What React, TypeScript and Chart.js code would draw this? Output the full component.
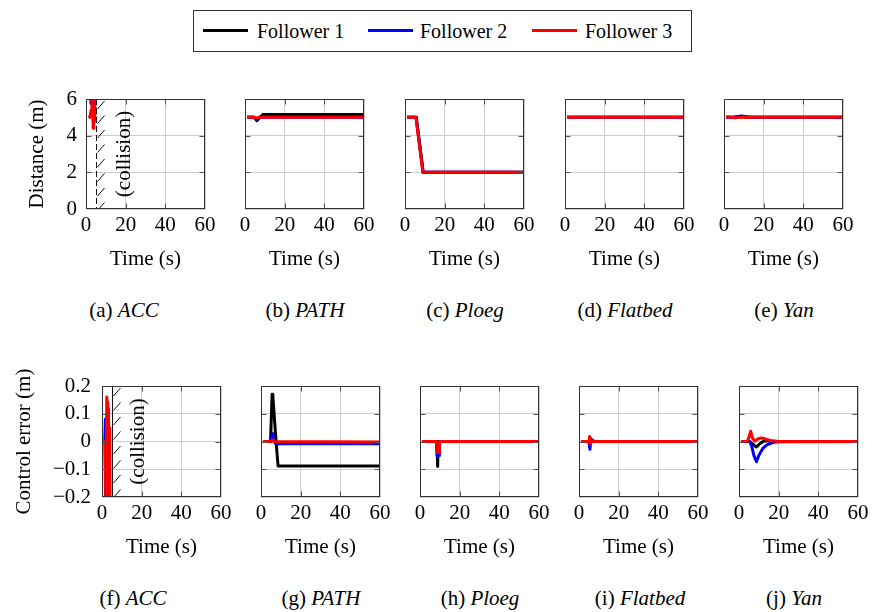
import React, { useEffect, useRef } from "react";
import { Chart, registerables } from "chart.js";

Chart.register(...registerables);

type Pt = [number, number];

// ---------- labels ----------
const followerNames = ["Follower 1", "Follower 2", "Follower 3"];
const followerColors = ["#000000", "#0000ff", "#ff0000"];
const controllerNames = ["ACC", "PATH", "Ploeg", "Flatbed", "Yan"];
const topLetters = ["a", "b", "c", "d", "e"];
const bottomLetters = ["f", "g", "h", "i", "j"];

const timeTicks = [0, 20, 40, 60];
const distTicks = [0, 2, 4, 6];
const distTickLabels = ["0", "2", "4", "6"];
const errTicks = [-0.2, -0.1, 0, 0.1, 0.2];
const errTickLabels = ["\u22120.2", "\u22120.1", "0", "0.1", "0.2"];

// ---------- distance (m) vs time (s) ----------
const accDist1: Pt[] = [[2.9, 6.6], [3.1, 5.95], [3.3, 6.6]];
const accDist2: Pt[] = [[2.2, 6.6], [2.5, 5.75], [2.8, 6.6]];
const accDist3: Pt[] = [[1.5, 5.1], [2.0, 5.0], [2.6, 5.4], [3.0, 6.6], [3.3, 6.0], [3.6, 4.4], [3.9, 6.0], [4.2, 4.8], [4.5, 6.6]];

const pathDist1: Pt[] = [[1, 5], [4.5, 5], [6, 4.82], [7.5, 5.0], [9, 5.15], [60, 5.15]];
const pathDist2: Pt[] = [[1, 5], [4.5, 5], [6, 4.9], [7.5, 5.0], [60, 5.0]];
const pathDist3: Pt[] = [[1, 5], [5, 5], [6, 4.96], [7, 5.0], [60, 5.0]];

const ploegDist1: Pt[] = [[1, 5], [5.7, 5], [9.2, 2], [60, 2]];
const ploegDist2: Pt[] = [[1, 5], [5.6, 5], [9.1, 2], [60, 2]];
const ploegDist3: Pt[] = [[1, 5], [5.5, 5], [9.0, 2], [60, 2]];

const flatbedDist1: Pt[] = [[1, 5], [60, 5]];
const flatbedDist2: Pt[] = [[1, 5], [60, 5]];
const flatbedDist3: Pt[] = [[1, 5], [60, 5]];

const yanDist1: Pt[] = [[1, 5], [5, 5], [8, 5.04], [12, 5.0], [60, 5]];
const yanDist2: Pt[] = [[1, 5], [5, 5], [8.8, 5.08], [14, 5.0], [60, 5]];
const yanDist3: Pt[] = [[1, 5], [4, 5], [5.5, 4.97], [8, 5.0], [60, 5]];

// ---------- control error (m) vs time (s) ----------
const accErr1: Pt[] = [[1, 0], [1.5, 0.0], [1.8, -0.25]];
const accErr2: Pt[] = [[1, 0], [1.4, 0.0], [1.7, 0.08], [2.1, -0.25]];
const accErr3: Pt[] = [[1, 0.0], [1.6, 0.0], [2.0, -0.25], [2.4, 0.16], [2.7, 0.14], [3.0, -0.25], [3.3, 0.12], [3.6, -0.25], [3.9, 0.05], [4.1, -0.25]];

const pathErr1: Pt[] = [[1, 0], [4.8, 0], [5.6, 0.17], [6.0, 0.16], [7.6, 0.0], [8.6, -0.088], [60, -0.088]];
const pathErr2: Pt[] = [[1, 0], [5, 0], [5.8, 0.03], [6.6, 0.0], [7.5, -0.008], [60, -0.008]];
const pathErr3: Pt[] = [[1, 0], [5, 0], [5.8, 0.006], [6.5, 0], [60, -0.002]];

const ploegErr1: Pt[] = [[1, 0], [8.5, 0], [8.9, -0.09], [9.2, 0], [60, 0]];
const ploegErr2: Pt[] = [[1, 0], [8.4, 0], [8.6, -0.05], [9.6, -0.05], [9.8, 0], [60, 0]];
const ploegErr3: Pt[] = [[1, 0], [8.4, 0], [8.6, -0.04], [9.6, -0.04], [9.8, 0], [60, 0]];

const flatbedErr1: Pt[] = [[1, 0], [5, 0], [5.5, -0.012], [6.5, 0.004], [8, 0], [60, 0]];
const flatbedErr2: Pt[] = [[1, 0], [5, 0], [5.5, -0.028], [6, 0.01], [7, 0], [60, 0]];
const flatbedErr3: Pt[] = [[1, 0], [5, 0], [5.4, 0.018], [5.7, -0.01], [6.2, 0.004], [7, 0], [60, 0]];

const yanErr1: Pt[] = [[1, 0], [5.5, 0.0], [7, -0.01], [8.8, -0.02], [10.5, -0.008], [12.5, 0.002], [15, 0.002], [20, 0], [60, 0]];
const yanErr2: Pt[] = [[1, 0], [5.5, 0.0], [6.5, -0.02], [7.5, -0.05], [8.8, -0.073], [10, -0.05], [12, -0.025], [14, -0.012], [17, -0.004], [20, -0.001], [60, 0]];
const yanErr3: Pt[] = [[1, 0], [4.2, 0], [5.2, 0.02], [5.9, 0.037], [6.8, 0.012], [8, 0.002], [9.5, 0.009], [11, 0.013], [13, 0.01], [16, 0.003], [20, 0.0], [60, 0]];

const distSeries: Pt[][][] = [
  [accDist1, accDist2, accDist3],
  [pathDist1, pathDist2, pathDist3],
  [ploegDist1, ploegDist2, ploegDist3],
  [flatbedDist1, flatbedDist2, flatbedDist3],
  [yanDist1, yanDist2, yanDist3],
];
const errSeries: Pt[][][] = [
  [accErr1, accErr2, accErr3],
  [pathErr1, pathErr2, pathErr3],
  [ploegErr1, ploegErr2, ploegErr3],
  [flatbedErr1, flatbedErr2, flatbedErr3],
  [yanErr1, yanErr2, yanErr3],
];

const collisionTime = 5;

// ---------- layout ----------
const FONT_FAMILY = "'Liberation Serif', 'Times New Roman', serif";
const FS = 21;
const LEGEND_FS = 20;
const LH = FS * 1.2;
const PAD_RIGHT = 16;
const X_AXIS_H = 63;
const PLOT_W = 119;

const topRow = { top: 99, h: 110, lefts: [86, 245, 405, 565, 724], captionY: 310 };
const bottomRow = { top: 386, h: 111, lefts: [102, 261, 420, 579, 739], captionY: 598 };

interface PanelCfg {
  left: number;
  top: number;
  h: number;
  yAxisW: number;
  labelled: boolean;
  yTitle: string;
  yTitlePad: number;
  yTickPad: number;
  yMin: number;
  yMax: number;
  yTicks: number[];
  yLabels: string[];
  series: Pt[][];
  collision?: { dashed: boolean; textT: number };
}

function padTopOf(cfg: PanelCfg) {
  return cfg.labelled ? Math.ceil(LH / 2 + cfg.yTickPad) + 2 : 16;
}

function makeFramePlugin(cfg: PanelCfg) {
  return {
    id: "frame",
    afterDatasetsDraw(chart: any) {
      const { ctx, chartArea: a, scales } = chart;
      const L = Math.round(a.left) + 0.5;
      const T = Math.round(a.top) + 0.5;
      const R = Math.round(a.right) - 0.5;
      const B = Math.round(a.bottom) - 0.5;
      ctx.save();
      if (cfg.collision) {
        ctx.save();
        ctx.beginPath();
        ctx.rect(a.left, a.top, a.right - a.left, a.bottom - a.top);
        ctx.clip();
        const cx = Math.round(scales.x.getPixelForValue(collisionTime)) + 0.5;
        ctx.strokeStyle = "#111";
        ctx.lineWidth = 1;
        if (cfg.collision.dashed) ctx.setLineDash([6, 3]);
        ctx.beginPath();
        ctx.moveTo(cx, a.top);
        ctx.lineTo(cx, a.bottom);
        ctx.stroke();
        ctx.setLineDash([]);
        for (let y = a.top + 6; y < a.bottom + 8; y += 14.5) {
          ctx.beginPath();
          ctx.moveTo(cx + 1, y + 4);
          ctx.lineTo(cx + 8, y - 4);
          ctx.stroke();
        }
        ctx.restore();
        const tx = scales.x.getPixelForValue(cfg.collision.textT);
        ctx.save();
        ctx.translate(tx, (a.top + a.bottom) / 2);
        ctx.rotate(-Math.PI / 2);
        ctx.font = `${FS}px ${FONT_FAMILY}`;
        ctx.fillStyle = "#000";
        ctx.textAlign = "center";
        ctx.textBaseline = "middle";
        ctx.fillText("(collision)", 0, 0);
        ctx.restore();
      }
      ctx.strokeStyle = "#555";
      ctx.lineWidth = 1;
      const tl = 5;
      timeTicks.slice(1, -1).forEach((v) => {
        const x = Math.round(scales.x.getPixelForValue(v)) + 0.5;
        ctx.beginPath();
        ctx.moveTo(x, B);
        ctx.lineTo(x, B - tl);
        ctx.moveTo(x, T);
        ctx.lineTo(x, T + tl);
        ctx.stroke();
      });
      cfg.yTicks.slice(1, -1).forEach((v) => {
        const y = Math.round(scales.y.getPixelForValue(v)) + 0.5;
        ctx.beginPath();
        ctx.moveTo(L, y);
        ctx.lineTo(L + tl, y);
        ctx.moveTo(R, y);
        ctx.lineTo(R - tl, y);
        ctx.stroke();
      });
      ctx.strokeStyle = "#333";
      ctx.lineWidth = 1;
      ctx.strokeRect(L, T, R - L, B - T);
      ctx.restore();
    },
  };
}

function PanelChart({ cfg }: { cfg: PanelCfg }) {
  const ref = useRef<HTMLCanvasElement>(null);
  const padTop = padTopOf(cfg);
  const W = cfg.yAxisW + PLOT_W + PAD_RIGHT;
  const H = padTop + cfg.h + X_AXIS_H;
  useEffect(() => {
    if (!ref.current) return;
    const font = { family: FONT_FAMILY, size: FS };
    const chart = new Chart(ref.current, {
      type: "line",
      data: {
        datasets: cfg.series.map((pts, i) => ({
          label: followerNames[i],
          data: pts.map(([x, y]) => ({ x, y })),
          borderColor: followerColors[i],
          backgroundColor: followerColors[i],
          borderWidth: 3,
          pointRadius: 0,
          fill: false,
          tension: 0,
          clip: 0,
          order: 3 - i,
          borderJoinStyle: "round" as const,
        })),
      },
      options: {
        animation: false,
        responsive: false,
        maintainAspectRatio: false,
        events: [],
        parsing: false as any,
        layout: { padding: { top: padTop, right: PAD_RIGHT, left: 0, bottom: 0 } },
        plugins: { legend: { display: false }, tooltip: { enabled: false } },
        scales: {
          x: {
            type: "linear",
            min: 0,
            max: 60,
            afterBuildTicks: (s: any) => {
              s.ticks = timeTicks.map((v) => ({ value: v }));
            },
            ticks: {
              font,
              color: "#000",
              padding: 4,
              maxRotation: 0,
              autoSkip: false,
              callback: (v: any) => String(v),
            },
            grid: { color: "#cccccc", lineWidth: 1, drawTicks: false },
            border: { display: false },
            title: { display: true, text: "Time (s)", font, color: "#000", padding: 0 },
            afterFit: (s: any) => {
              s.height = X_AXIS_H;
            },
          },
          y: {
            type: "linear",
            min: cfg.yMin,
            max: cfg.yMax,
            afterBuildTicks: (s: any) => {
              s.ticks = cfg.yTicks.map((v) => ({ value: v }));
            },
            ticks: {
              display: cfg.labelled,
              font,
              color: "#000",
              padding: cfg.yTickPad,
              autoSkip: false,
              callback: (_v: any, idx: number) => cfg.yLabels[idx],
            },
            grid: { color: "#cccccc", lineWidth: 1, drawTicks: false },
            border: { display: false },
            title: {
              display: cfg.labelled,
              text: cfg.yTitle,
              font,
              color: "#000",
              padding: { top: cfg.yTitlePad, bottom: 0 },
            },
            afterFit: (s: any) => {
              s.width = cfg.yAxisW;
            },
          },
        },
      } as any,
      plugins: [makeFramePlugin(cfg)],
    });
    return () => chart.destroy();
  }, []);
  return (
    <canvas
      ref={ref}
      width={W}
      height={H}
      style={{ position: "absolute", left: cfg.left - cfg.yAxisW, top: cfg.top - padTop, width: W, height: H }}
    />
  );
}

const panels: PanelCfg[] = [];
topRow.lefts.forEach((left, i) => {
  panels.push({
    left,
    top: topRow.top,
    h: topRow.h,
    yAxisW: i === 0 ? 86 : 14,
    labelled: i === 0,
    yTitle: "Distance (m)",
    yTitlePad: 25,
    yTickPad: 9,
    yMin: 0,
    yMax: 6,
    yTicks: distTicks,
    yLabels: distTickLabels,
    series: distSeries[i],
    collision: i === 0 ? { dashed: true, textT: 19.5 } : undefined,
  });
});
bottomRow.lefts.forEach((left, i) => {
  panels.push({
    left,
    top: bottomRow.top,
    h: bottomRow.h,
    yAxisW: i === 0 ? 102 : 14,
    labelled: i === 0,
    yTitle: "Control error (m)",
    yTitlePad: 12,
    yTickPad: 11,
    yMin: -0.2,
    yMax: 0.2,
    yTicks: errTicks,
    yLabels: errTickLabels,
    series: errSeries[i],
    collision: i === 0 ? { dashed: false, textT: 18.3 } : undefined,
  });
});

const topCaptionX = [124, 305, 465, 625, 784];
const bottomCaptionX = [133, 321, 480, 640, 794];

function Caption({ x, y, letter, name }: { x: number; y: number; letter: string; name: string }) {
  return (
    <div
      style={{
        position: "absolute",
        left: x,
        top: y - 13,
        height: 26,
        lineHeight: "26px",
        transform: "translateX(-50%)",
        whiteSpace: "nowrap",
        fontSize: FS,
      }}
    >
      ({letter}) <i>{name}</i>
    </div>
  );
}

function Legend() {
  const lineX = [203, 368, 532];
  const textX = [257, 420, 585];
  return (
    <div
      style={{
        position: "absolute",
        left: 193,
        top: 10,
        width: 497,
        height: 40,
        border: "1px solid #333",
      }}
    >
      {followerNames.map((n, i) => (
        <React.Fragment key={n}>
          <div
            style={{
              position: "absolute",
              left: lineX[i] - 194,
              top: 18,
              width: 45,
              height: 3,
              background: followerColors[i],
            }}
          />
          <div
            style={{
              position: "absolute",
              left: textX[i] - 194,
              top: 7,
              height: 26,
              lineHeight: "26px",
              fontSize: LEGEND_FS,
              whiteSpace: "nowrap",
            }}
          >
            {n}
          </div>
        </React.Fragment>
      ))}
    </div>
  );
}

export default function App() {
  return (
    <div
      style={{
        position: "absolute",
        left: 0,
        top: 0,
        width: 875,
        height: 612,
        background: "#fff",
        fontFamily: FONT_FAMILY,
        color: "#000",
        overflow: "hidden",
      }}
    >
      <Legend />
      {panels.map((p, i) => (
        <PanelChart key={i} cfg={p} />
      ))}
      {controllerNames.map((n, i) => (
        <Caption key={"t" + i} x={topCaptionX[i]} y={topRow.captionY} letter={topLetters[i]} name={n} />
      ))}
      {controllerNames.map((n, i) => (
        <Caption key={"b" + i} x={bottomCaptionX[i]} y={bottomRow.captionY} letter={bottomLetters[i]} name={n} />
      ))}
    </div>
  );
}
